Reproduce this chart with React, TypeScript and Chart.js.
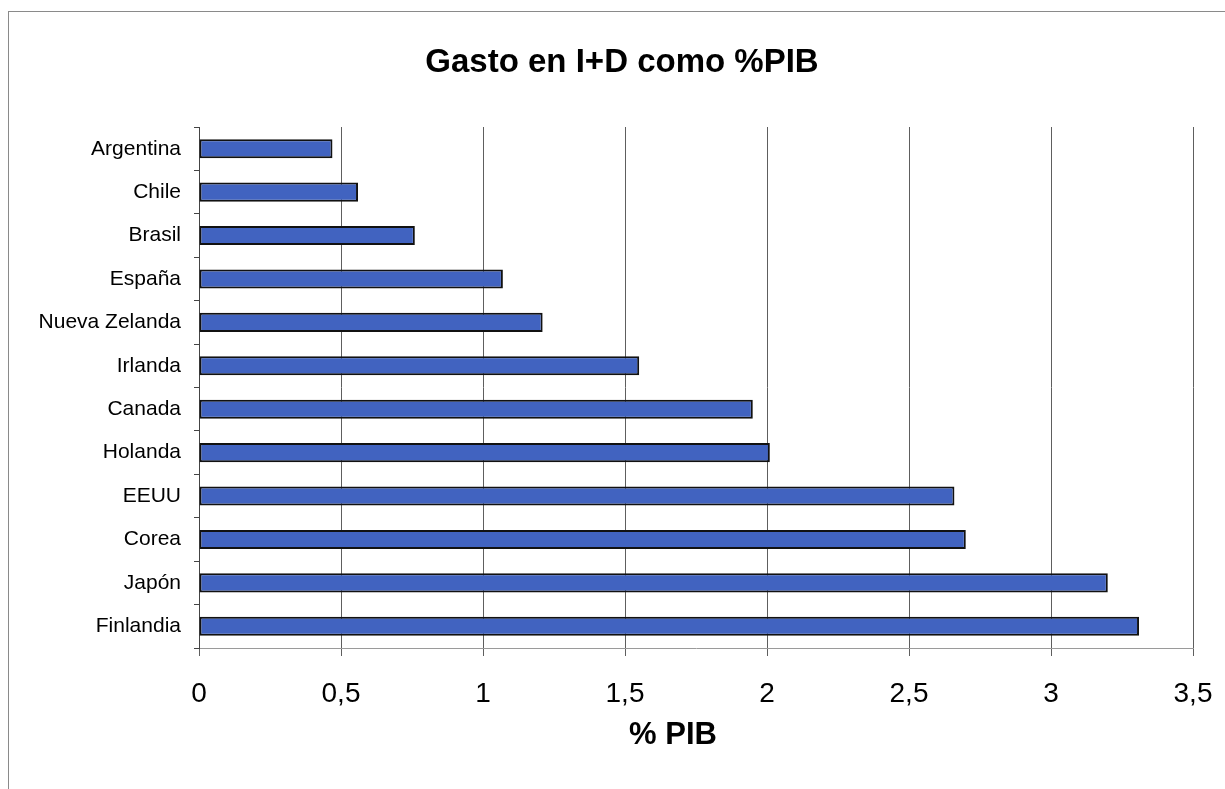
import React, { useEffect, useRef } from "react";
import { Chart, registerables } from "chart.js";

Chart.register(...registerables);

const categories = [
  "Argentina",
  "Chile",
  "Brasil",
  "España",
  "Nueva Zelanda",
  "Irlanda",
  "Canada",
  "Holanda",
  "EEUU",
  "Corea",
  "Japón",
  "Finlandia",
];
const values = [0.47, 0.56, 0.76, 1.07, 1.21, 1.55, 1.95, 2.01, 2.66, 2.7, 3.2, 3.31];
const chartTitle = "Gasto en I+D como %PIB";
const axisTitle = "% PIB";

const FONT = "'Liberation Sans', Arial, sans-serif";

const textPlugin = {
  id: "customTexts",
  afterDraw(chart: any) {
    const ctx = chart.ctx;
    ctx.save();
    ctx.fillStyle = "#000";
    ctx.textAlign = "center";
    ctx.textBaseline = "middle";
    ctx.font = `bold 33px ${FONT}`;
    ctx.fillText(chartTitle, 622, 63);
    ctx.font = `bold 31px ${FONT}`;
    ctx.fillText(axisTitle, 673, 735);
    ctx.restore();
  },
};

export default function App() {
  const ref = useRef<HTMLCanvasElement | null>(null);

  useEffect(() => {
    document.body.style.margin = "0";
    const canvas = ref.current;
    if (!canvas) return;
    const chart = new Chart(canvas, {
      type: "bar",
      data: {
        labels: categories,
        datasets: [
          {
            data: values,
            backgroundColor: "#4163C0",
            borderColor: "#111111",
            borderWidth: 2,
            borderSkipped: false,
            categoryPercentage: 1,
            barPercentage: 0.44,
          },
        ],
      },
      options: {
        indexAxis: "y",
        animation: false,
        responsive: false,
        maintainAspectRatio: false,
        layout: { padding: { left: 0, right: 32, top: 127, bottom: 0 } },
        plugins: {
          legend: { display: false },
          tooltip: { enabled: false },
          title: { display: false },
        },
        scales: {
          x: {
            type: "linear",
            min: 0,
            max: 3.5,
            ticks: {
              stepSize: 0.5,
              color: "#000",
              padding: 21,
              font: { family: FONT, size: 28 },
              callback: (v: any) => String(Number(v)).replace(".", ","),
            },
            grid: {
              color: "#5e5e5e",
              lineWidth: 1,
              tickLength: 8,
              drawTicks: true,
            },
            border: { display: true, color: "#9a9a9a", width: 1 },
            title: { display: false },
            afterFit: (scale: any) => {
              scale.height = 141;
              scale.paddingRight = 0;
              scale.paddingLeft = 0;
            },
          },
          y: {
            type: "category",
            offset: true,
            ticks: {
              color: "#000",
              padding: 13,
              font: { family: FONT, size: 21 },
            },
            grid: {
              offset: true,
              drawOnChartArea: false,
              drawTicks: true,
              tickLength: 5,
              color: "#444",
            },
            border: { display: true, color: "#444", width: 1 },
            afterFit: (scale: any) => {
              scale.width = 199;
              scale.paddingTop = 0;
              scale.paddingBottom = 0;
            },
          },
        },
      },
      plugins: [textPlugin],
    });
    return () => chart.destroy();
  }, []);

  return (
    <div style={{ position: "relative", width: 1225, height: 789, background: "#fff", overflow: "hidden" }}>
      <div
        style={{
          position: "absolute",
          left: 8,
          top: 11,
          width: 1300,
          height: 900,
          borderLeft: "1.5px solid #8a8a8a",
          borderTop: "1.5px solid #8a8a8a",
        }}
      />
      <canvas ref={ref} width={1225} height={789} style={{ position: "absolute", left: 0, top: 0, width: 1225, height: 789 }} />
    </div>
  );
}
